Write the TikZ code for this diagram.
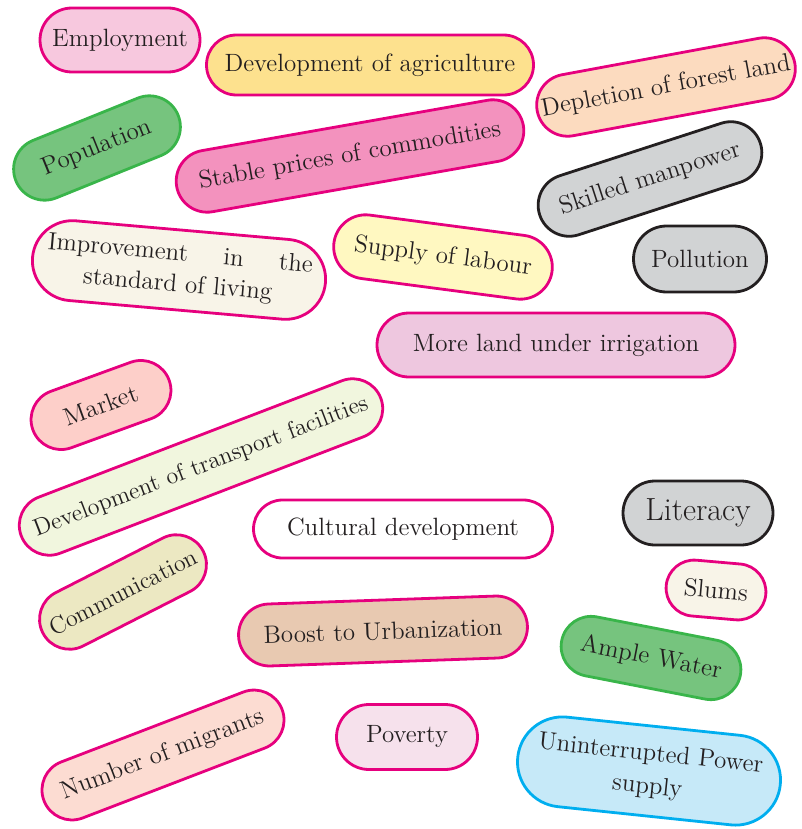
\documentclass[tikz,border=0pt]{standalone}
\definecolor{txt}{HTML}{231F20}
\definecolor{magline}{HTML}{E6007E}
\definecolor{greenline}{HTML}{39B54A}
\definecolor{cyanline}{HTML}{00AEEF}
\definecolor{empfill}{HTML}{F7C8DE}
\definecolor{agrifill}{HTML}{FDE18E}
\definecolor{forestfill}{HTML}{FCDBBF}
\definecolor{greenfill}{HTML}{76C47E}
\definecolor{pricefill}{HTML}{F392BE}
\definecolor{grayfill}{HTML}{D1D3D4}
\definecolor{creamfill}{HTML}{F8F4E8}
\definecolor{labourfill}{HTML}{FFF8C1}
\definecolor{irrigfill}{HTML}{EEC7DF}
\definecolor{marketfill}{HTML}{FDCFC9}
\definecolor{transfill}{HTML}{F1F6DE}
\definecolor{commfill}{HTML}{ECE8C2}
\definecolor{urbanfill}{HTML}{E8C9B1}
\definecolor{migrantfill}{HTML}{FCDCD2}
\definecolor{povertyfill}{HTML}{F6E1EC}
\definecolor{powerfill}{HTML}{C6E9F8}
\tikzset{
  pill/.style={draw=magline, line width=1.4pt, text=txt, inner xsep=0pt, inner ysep=2pt,
    font=\fontsize{12.5}{15.5}\selectfont},
  pillsize/.code 2 args={\pgfmathsetmacro\pillr{#2/2}%
    \tikzset{minimum width=#1pt, minimum height=#2pt, rounded corners=\pillr pt}},
  grey/.style={pill, draw=txt, fill=grayfill},
  leaf/.style={pill, draw=greenline, fill=greenfill}
}
\begin{document}
\begin{tikzpicture}[x=0.5pt,y=-0.5pt]
  \useasboundingbox (0,0) rectangle (802,829);
  \node[pill, fill=empfill, pillsize={80}{32}] (employment) at (120,40) {Employment};
  \node[pill, fill=agrifill, pillsize={163.5}{30}] (agriculture) at (370,65) {Development of agriculture};
  \node[pill, fill=forestfill, pillsize={131}{31}, rotate=10.5] (forest) at (666,87) {Depletion of forest land};
  \node[leaf, pillsize={87.5}{31}, rotate=22] (population) at (97,148) {Population};
  \node[pill, fill=pricefill, pillsize={176}{31}, rotate=10] (prices) at (350,156) {Stable prices of commodities};
  \node[grey, pillsize={116}{31}, rotate=18] (manpower) at (650,179) {Skilled manpower};
  \node[grey, pillsize={66.5}{33}] (pollution) at (700,259) {Pollution};
  \node[pill, fill=creamfill, pillsize={147}{40}, rotate=-5, text width=133pt, align=center] (living) at (179,270)
    {Improvement \hfill in \hfill the\\standard of living};
  \node[pill, fill=labourfill, pillsize={110}{32}, rotate=-7.5] (labour) at (443,257) {Supply of labour};
  \node[pill, fill=irrigfill, pillsize={179}{32}] (irrigation) at (556,345) {More land under irrigation};
  \node[pill, fill=marketfill, pillsize={72.5}{30}, rotate=20] (market) at (101,405) {Market};
  \node[pill, fill=transfill, pillsize={192.5}{30}, rotate=21, font=\fontsize{12}{15}\selectfont] (transport) at (201,467)
    {Development of transport facilities};
  \node[pill, fill=white, pillsize={149.5}{29}] (cultural) at (403,529) {Cultural development};
  \node[grey, pillsize={75}{32}, font=\fontsize{16}{19}\selectfont] (literacy) at (698,513) {Literacy};
  \node[pill, fill=commfill, pillsize={90}{30}, rotate=27, font=\fontsize{12}{15}\selectfont] (communication) at (123,592)
    {Communication};
  \node[pill, fill=creamfill, pillsize={50}{28}, rotate=-5] (slums) at (716,590) {Slums};
  \node[pill, fill=urbanfill, pillsize={144.5}{31}, rotate=2] (urban) at (383,631) {Boost to Urbanization};
  \node[leaf, pillsize={91}{30}, rotate=-11] (water) at (651,658) {Ample Water};
  \node[pill, fill=migrantfill, pillsize={127.5}{30}, rotate=21] (migrants) at (163,755) {Number of migrants};
  \node[pill, fill=povertyfill, pillsize={70.5}{32.5}] (poverty) at (407,737) {Poverty};
  \node[pill, draw=cyanline, fill=powerfill, pillsize={132}{45}, rotate=-6, text width=122pt, align=center,
    font=\fontsize{12.5}{16.5}\selectfont] (power) at (649,771) {Uninterrupted Power\\supply};
\end{tikzpicture}
\end{document}
